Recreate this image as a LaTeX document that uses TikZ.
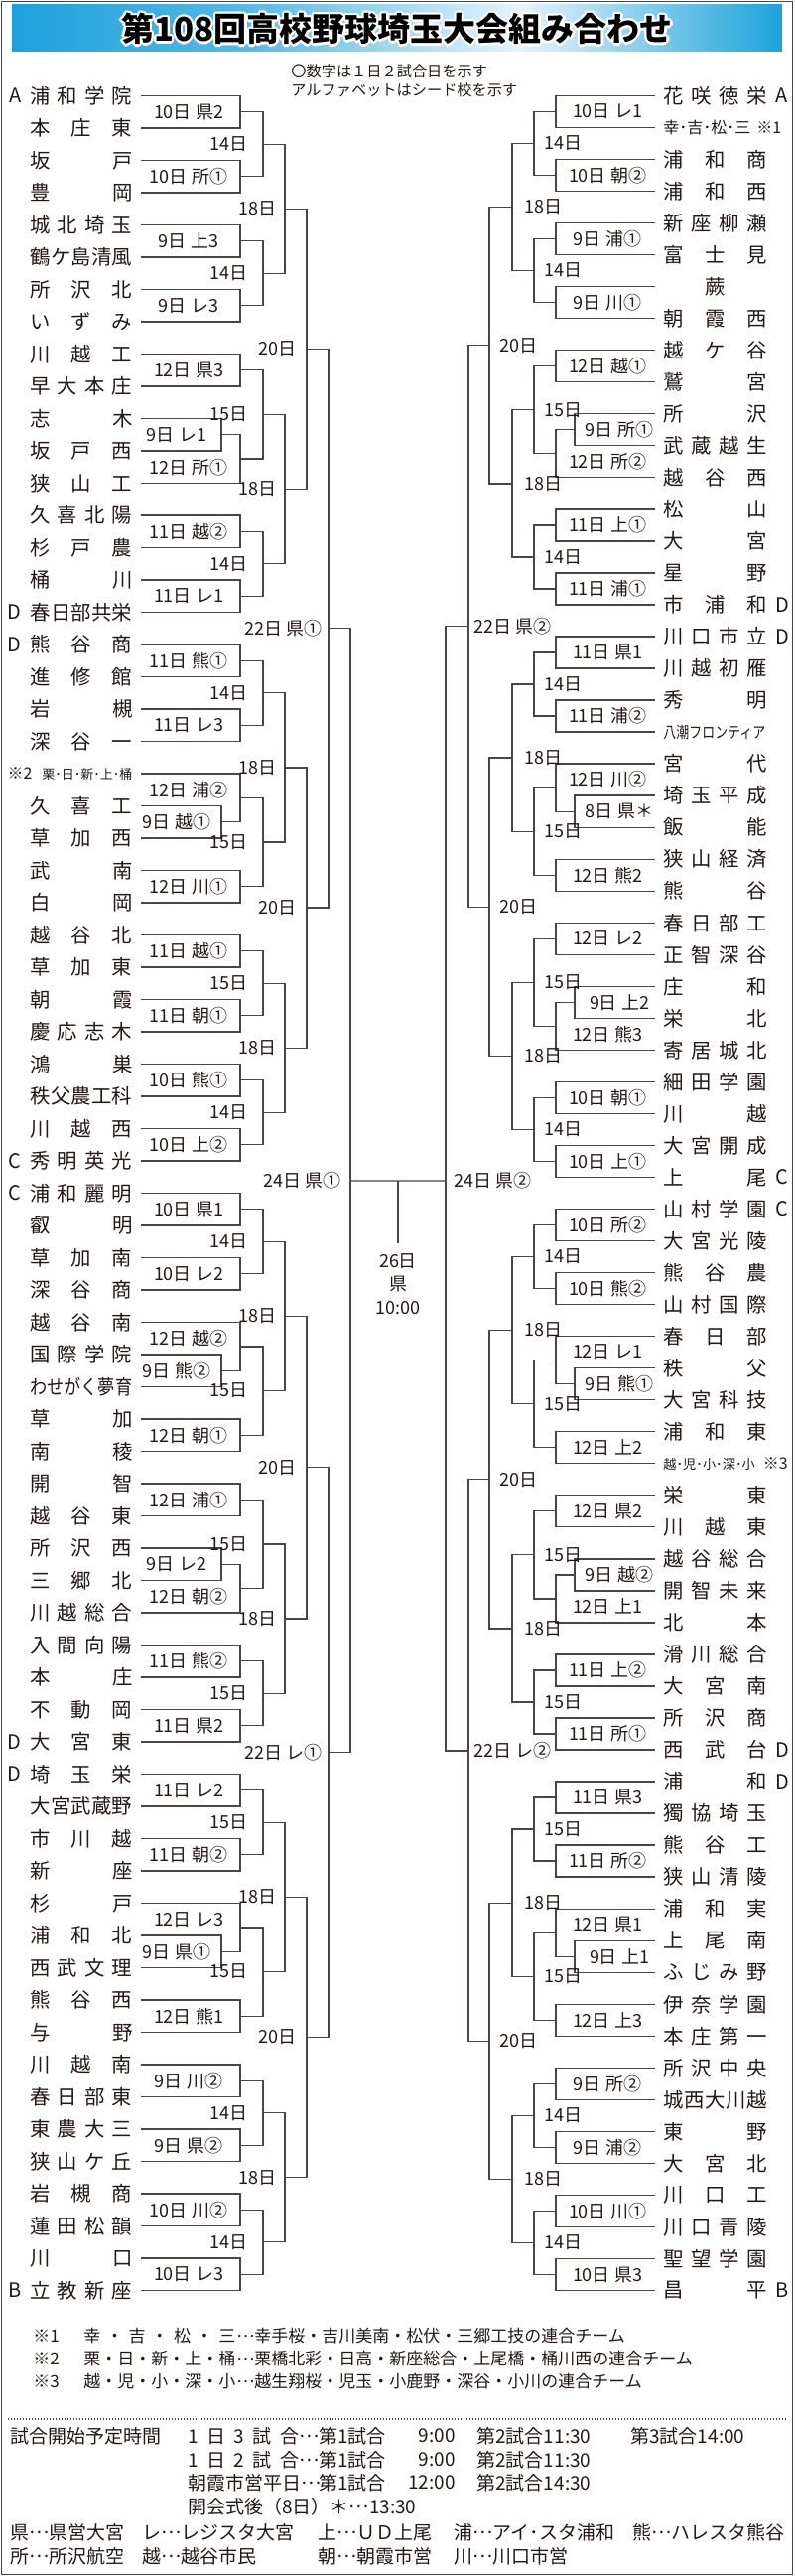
\documentclass[tikz,border=0pt]{standalone}
\usepackage{fontspec}
\usepackage{graphicx}
\setmainfont{Noto Sans CJK JP}
\usetikzlibrary{positioning,calc}

\definecolor{ink}{HTML}{231815}
\definecolor{wire}{HTML}{4A4543}
\definecolor{bnblue}{HTML}{1DA1DC}
\definecolor{bnlight}{HTML}{E4F4FB}
\pgfdeclarehorizontalshading{banner}{100bp}{color(0bp)=(bnblue); color(25bp)=(bnblue);
  color(40bp)=(bnblue!75!white); color(58bp)=(bnlight); color(75bp)=(bnblue); color(100bp)=(bnblue)}

% school names are spread over the name column
\newlength\namew \setlength\namew{51.5pt}
\newlength\namewr \setlength\namewr{52pt}
\def\snfirst#1{#1\snloop}
\def\snloop#1{\ifx\relax#1\else\hfill#1\expandafter\snloop\fi}
\newcommand\sname[2]{\makebox[#1][s]{\expandafter\snfirst#2\relax}}
\newcommand\dts{\raisebox{.3em}{…}}

% bracket: upper, lower, x of the vertical, name of the new end
\newcommand\bjoin[5][.5]{%
  \draw[bline] (#2) -- (#2 -| #4) -- (#3 -| #4) -- (#3);
  \coordinate (#5) at ($(#2 -| #4)!#1!(#3 -| #4)$);}

\begin{document}
\begin{tikzpicture}[x=0.5pt, y=-0.5pt,
  team/.style={anchor=west, inner xsep=4pt, inner ysep=0pt, text=ink,
               font=\fontsize{10.2}{12}\selectfont},
  seed/.style={inner sep=0pt, text=ink, font=\fontsize{10}{12}\selectfont},
  game/.style={inner sep=0pt, text=ink, font=\fontsize{9}{10}\selectfont},
  dayl/.style={game, anchor=east},
  dayr/.style={game, anchor=west},
  bline/.style={draw=wire, line width=0.65pt},
  ttl/.style={inner sep=0pt, font=\fontsize{16.5}{18}\selectfont\bfseries},
  note/.style={inner sep=0pt, anchor=west, text=ink, font=\fontsize{8.5}{10}\selectfont},
  sched/.style={note, font=\fontsize{9.5}{11}\selectfont},
]
\useasboundingbox (0,0) rectangle (800,2594);
\fill[white] (0,0) rectangle (800,2594);
\draw[wire, line width=0.75pt] (1.5,1.5) rectangle (798.5,2592.5);

% title
\shade[shading=banner] (12,5) rectangle (788,52);
\foreach \ang in {0,30,...,330}
  \node[ttl, text=white] at ($(400,29)+(\ang:2.4)$) {第108回高校野球埼玉大会組み合わせ};
\node[ttl, text=black] (title) at (400,29) {第108回高校野球埼玉大会組み合わせ};
\node[note, align=left, font=\fontsize{7.6}{9.5}\selectfont] (legend) at (293,81.5)
  {〇数字は１日２試合日を示す\\アルファベットはシード校を示す};

% columns of the bracket
\foreach \n/\x in {xl0/223,xl1/242,xl2/265,xl3/287,xl4/309,xl5/331,xl6/353,%
  xr0/579,xr1/560,xr2/538,xr3/516,xr4/493,xr5/472,xr6/449,%
  gl/190,gl0/178,gr/612,gr0/624,%
  dl2/250,dl3/279,dl4/299,dl5/325,dl6/344,%
  dr2/548,dr3/528,dr4/503,dr5/477,dr6/457}
  \coordinate (\n) at (\x,0);

% schools, left
\foreach \nm [count=\i] in {浦和学院,本庄東,坂戸,豊岡,城北埼玉,鶴ケ島清風,所沢北,いずみ,%
  川越工,早大本庄,志木,坂戸西,狭山工,久喜北陽,杉戸農,桶川,春日部共栄,熊谷商,進修館,%
  岩槻,深谷一,%
  {{{\makebox[\namew][r]{\fontsize{8}{9}\selectfont ※2\hspace{5pt}\fontsize{6.5}{8}\selectfont 栗･日･新･上･桶}}}},%
  久喜工,草加西,武南,白岡,越谷北,草加東,朝霞,慶応志木,鴻巣,秩父農工科,川越西,秀明英光,%
  浦和麗明,叡明,草加南,深谷商,越谷南,国際学院,{{{\scalebox{.84}[1]{わせがく夢育}}}},%
  草加,南稜,開智,越谷東,所沢西,三郷北,川越総合,入間向陽,本庄,不動岡,大宮東,埼玉栄,%
  大宮武蔵野,市川越,新座,杉戸,浦和北,西武文理,熊谷西,与野,川越南,春日部東,東農大三,%
  狭山ケ丘,岩槻商,蓮田松韻,川口,立教新座}
  \node[team] (L\i) at (22,{96.5+32.5*(\i-1)}) {\sname{\namew}{\nm}};
\foreach \i/\s in {1/A,17/D,18/D,34/C,35/C,52/D,53/D,69/B}
  \node[seed, anchor=east] (sL\i) at (L\i.west) {\s};

% schools, right
\foreach \nm [count=\i] in {花咲徳栄,%
  {{{\makebox[\namewr][l]{\fontsize{8}{9}\selectfont 幸･吉･松･三\hspace{3pt}※1}}}},%
  浦和商,浦和西,新座柳瀬,富士見,{{{\hfill 蕨\hfill}}},朝霞西,越ケ谷,鷲宮,所沢,武蔵越生,%
  越谷西,松山,大宮,星野,市浦和,川口市立,川越初雁,秀明,%
  {{{\scalebox{.81}[1]{\fontsize{8}{9}\selectfont 八潮フロンティア}}}},%
  宮代,埼玉平成,飯能,狭山経済,熊谷,春日部工,正智深谷,庄和,栄北,寄居城北,細田学園,川越,%
  大宮開成,上尾,山村学園,大宮光陵,熊谷農,山村国際,春日部,秩父,大宮科技,浦和東,%
  {{{\makebox[\namewr][l]{\fontsize{6.6}{8}\selectfont 越･児･小･深･小\hspace{4pt}\fontsize{8}{9}\selectfont ※3}}}},%
  栄東,川越東,越谷総合,開智未来,北本,滑川総合,大宮南,所沢商,西武台,浦和,獨協埼玉,%
  熊谷工,狭山清陵,浦和実,上尾南,ふじみ野,伊奈学園,本庄第一,所沢中央,城西大川越,東野,%
  大宮北,川口工,川口青陵,聖望学園,昌平}
  \node[team] (R\i) at (660,{96.5+2210/69*(\i-1)}) {\sname{\namewr}{\nm}};
\foreach \i/\s in {1/A,17/D,18/D,35/C,36/C,53/D,54/D,70/B}
  \node[seed, anchor=west] (sR\i) at (R\i.east) {\s};

% first games, left
\foreach \a/\b/\g/\lab in {L1/L2/la1/10日 県2,L3/L4/la2/10日 所①,L5/L6/la3/9日 上3,%
  L7/L8/la4/9日 レ3,L9/L10/la5/12日 県3,L14/L15/la7/11日 越②,L16/L17/la8/11日 レ1,%
  L18/L19/la9/11日 熊①,L20/L21/la10/11日 レ3,L25/L26/la12/12日 川①,L27/L28/la13/11日 越①,%
  L29/L30/la14/11日 朝①,L31/L32/la15/10日 熊①,L33/L34/la16/10日 上②,L35/L36/la17/10日 県1,%
  L37/L38/la18/10日 レ2,L42/L43/la20/12日 朝①,L44/L45/la21/12日 浦①,L49/L50/la23/11日 熊②,%
  L51/L52/la24/11日 県2,L53/L54/la25/11日 レ2,L55/L56/la26/11日 朝②,L60/L61/la28/12日 熊1,%
  L62/L63/la29/9日 川②,L64/L65/la30/9日 県②,L66/L67/la31/10日 川②,L68/L69/la32/10日 レ3}
  {\bjoin{\a}{\b}{xl1}{\g}\node[game] at (\g -| gl) {\lab};}
\foreach \a/\b/\g/\lab in {L11/L12/lp1/9日 レ1,L23/L24/lp2/9日 越①,L40/L41/lp3/9日 熊②,%
  L46/L47/lp4/9日 レ2,L58/L59/lp5/9日 県①}
  {\bjoin{\a}{\b}{xl0}{\g}\node[game] at (\g -| gl0) {\lab};}
\foreach \a/\b/\g/\p/\q/\lab in {lp1/L13/la6/L12/L13/12日 所①,L22/lp2/la11/L22/L23/12日 浦②,%
  L39/lp3/la19/L39/L40/12日 越②,lp4/L48/la22/L47/L48/12日 朝②,L57/lp5/la27/L57/L58/12日 レ3}
  {\bjoin{\a}{\b}{xl1}{\g}\node[game] at ($(gl |- \p)!.5!(gl |- \q)$) {\lab};}

% first games, right
\foreach \a/\b/\g/\lab in {R1/R2/ra1/10日 レ1,R3/R4/ra2/10日 朝②,R5/R6/ra3/9日 浦①,%
  R7/R8/ra4/9日 川①,R9/R10/ra5/12日 越①,R14/R15/ra7/11日 上①,R16/R17/ra8/11日 浦①,%
  R18/R19/ra9/11日 県1,R20/R21/ra10/11日 浦②,R25/R26/ra12/12日 熊2,R27/R28/ra13/12日 レ2,%
  R32/R33/ra15/10日 朝①,R34/R35/ra16/10日 上①,R36/R37/ra17/10日 所②,R38/R39/ra18/10日 熊②,%
  R43/R44/ra20/12日 上2,R45/R46/ra21/12日 県2,R50/R51/ra23/11日 上②,R52/R53/ra24/11日 所①,%
  R54/R55/ra25/11日 県3,R56/R57/ra26/11日 所②,R61/R62/ra28/12日 上3,R63/R64/ra29/9日 所②,%
  R65/R66/ra30/9日 浦②,R67/R68/ra31/10日 川①,R69/R70/ra32/10日 県3}
  {\bjoin{\a}{\b}{xr1}{\g}\node[game] at (\g -| gr) {\lab};}
\foreach \a/\b/\g/\lab in {R11/R12/rp1/9日 所①,R23/R24/rp2/8日 県＊,R29/R30/rp3/9日 上2,%
  R41/R42/rp4/9日 熊①,R47/R48/rp5/9日 越②,R59/R60/rp6/9日 上1}
  {\bjoin{\a}{\b}{xr0}{\g}\node[game] at (\g -| gr0) {\lab};}
\foreach \a/\b/\g/\p/\q/\lab in {rp1/R13/ra6/R12/R13/12日 所②,R22/rp2/ra11/R22/R23/12日 川②,%
  rp3/R31/ra14/R30/R31/12日 熊3,R40/rp4/ra19/R40/R41/12日 レ1,rp5/R49/ra22/R48/R49/12日 上1,%
  R58/rp6/ra27/R58/R59/12日 県1}
  {\bjoin{\a}{\b}{xr1}{\g}\node[game] at ($(gr |- \p)!.5!(gr |- \q)$) {\lab};}

% later rounds, both sides
\foreach \s/\st in {l/dayl,r/dayr}{
  \foreach \a/\b/\g/\lab in {1/2/1/14日,3/4/2/14日,5/6/3/15日,7/8/4/14日,9/10/5/14日,%
    11/12/6/15日,13/14/7/15日,15/16/8/14日,17/18/9/14日,19/20/10/15日,21/22/11/15日,%
    23/24/12/15日,25/26/13/15日,27/28/14/15日,29/30/15/14日,31/32/16/14日}
    {\bjoin{\s a\a}{\s a\b}{x\s 2}{\s b\g}\node[\st] at (\s b\g -| d\s 2) {\lab};}
  \foreach \g in {1,...,8}{
    \pgfmathtruncatemacro\a{2*\g-1}\pgfmathtruncatemacro\b{2*\g}
    \bjoin{\s b\a}{\s b\b}{x\s 3}{\s c\g}\node[\st] at (\s c\g -| d\s 3) {18日};}
  \foreach \g in {1,...,4}{
    \pgfmathtruncatemacro\a{2*\g-1}\pgfmathtruncatemacro\b{2*\g}
    \bjoin{\s c\a}{\s c\b}{x\s 4}{\s d\g}\node[\st] at (\s d\g -| d\s 4) {20日};}
}
\bjoin{ld1}{ld2}{xl5}{le1}\node[dayl] at (le1 -| dl5) {22日 県①};
\bjoin{ld3}{ld4}{xl5}{le2}\node[dayl] at (le2 -| dl5) {22日 レ①};
\bjoin{rd1}{rd2}{xr5}{re1}\node[dayr] at (re1 -| dr5) {22日 県②};
\bjoin[.483]{rd3}{rd4}{xr5}{re2}\node[dayr] at (re2 -| dr5) {22日 レ②};
\bjoin[.4915]{le1}{le2}{xl6}{lf}\node[dayl] at (lf -| dl6) {24日 県①};
\bjoin[.4932]{re1}{re2}{xr6}{rf}\node[dayr] at (rf -| dr6) {24日 県②};

% final
\draw[bline] (lf) -- (rf);
\coordinate (fin) at ($(lf)!.5!(rf)$);
\node[game, align=center, anchor=north, inner ysep=5pt, font=\fontsize{9}{11.75}\selectfont]
  (final) at ($(fin)+(0,63)$) {26日\\県\\10:00};
\draw[bline] (fin) -- (final);

% notes
\node[note] (fn1) at (33,2352) {※1};
\node[note] (fa1) at (84,2352) {\makebox[76.5pt][s]{幸 ・ 吉 ・ 松 ・ 三}};
\node[note] (ft1) at (238,2352) {\dts 幸手桜・吉川美南・松伏・三郷工技の連合チーム};
\node[note] (fn2) at (33,2375) {※2};
\node[note] (fa2) at (84,2375) {栗・日・新・上・桶};
\node[note] (ft2) at (238,2375) {\dts 栗橋北彩・日高・新座総合・上尾橋・桶川西の連合チーム};
\node[note] (fn3) at (33,2398) {※3};
\node[note] (fa3) at (84,2398) {越・児・小・深・小};
\node[note] (ft3) at (238,2398) {\dts 越生翔桜・児玉・小鹿野・深谷・小川の連合チーム};
\draw[wire, line width=0.75pt, dash pattern=on 0.6pt off 0.9pt] (8,2436) -- (792,2436);

% start times and grounds
\node[sched] (s0) at (10,2453) {試合開始予定時間};
\node[sched] (s1a) at (189,2453) {\makebox[56pt][s]{1 日 3 試 合}\dts};
\node[sched] (s1b) at (321,2453) {第1試合};
\node[sched, anchor=east] (s1c) at (459,2453) {9:00};
\node[sched] (s1d) at (480,2453) {第2試合11:30};
\node[sched] (s1e) at (635,2453) {第3試合14:00};
\node[sched] (s2a) at (189,2477) {\makebox[56pt][s]{1 日 2 試 合}\dts};
\node[sched] (s2b) at (321,2477) {第1試合};
\node[sched, anchor=east] (s2c) at (459,2477) {9:00};
\node[sched] (s2d) at (480,2477) {第2試合11:30};
\node[sched] (s3a) at (189,2500) {朝霞市営平日\dts};
\node[sched] (s3b) at (321,2500) {第1試合};
\node[sched, anchor=east] (s3c) at (459,2500) {12:00};
\node[sched] (s3d) at (480,2500) {第2試合14:30};
\node[sched] (s4a) at (189,2524) {開会式後（8日）＊\dts 13:30};
\node[sched] (k1) at (10,2550) {県\dts 県営大宮};
\node[sched] (k2) at (143,2550) {レ\dts レジスタ大宮};
\node[sched] (k3) at (320,2550) {上\dts ＵＤ上尾};
\node[sched] (k4) at (457,2550) {浦\dts アイ･スタ浦和};
\node[sched] (k5) at (637,2550) {熊\dts ハレスタ熊谷};
\node[sched] (k6) at (10,2574) {所\dts 所沢航空};
\node[sched] (k7) at (143,2574) {越\dts 越谷市民};
\node[sched] (k8) at (320,2574) {朝\dts 朝霞市営};
\node[sched] (k9) at (457,2574) {川\dts 川口市営};
\end{tikzpicture}
\end{document}
